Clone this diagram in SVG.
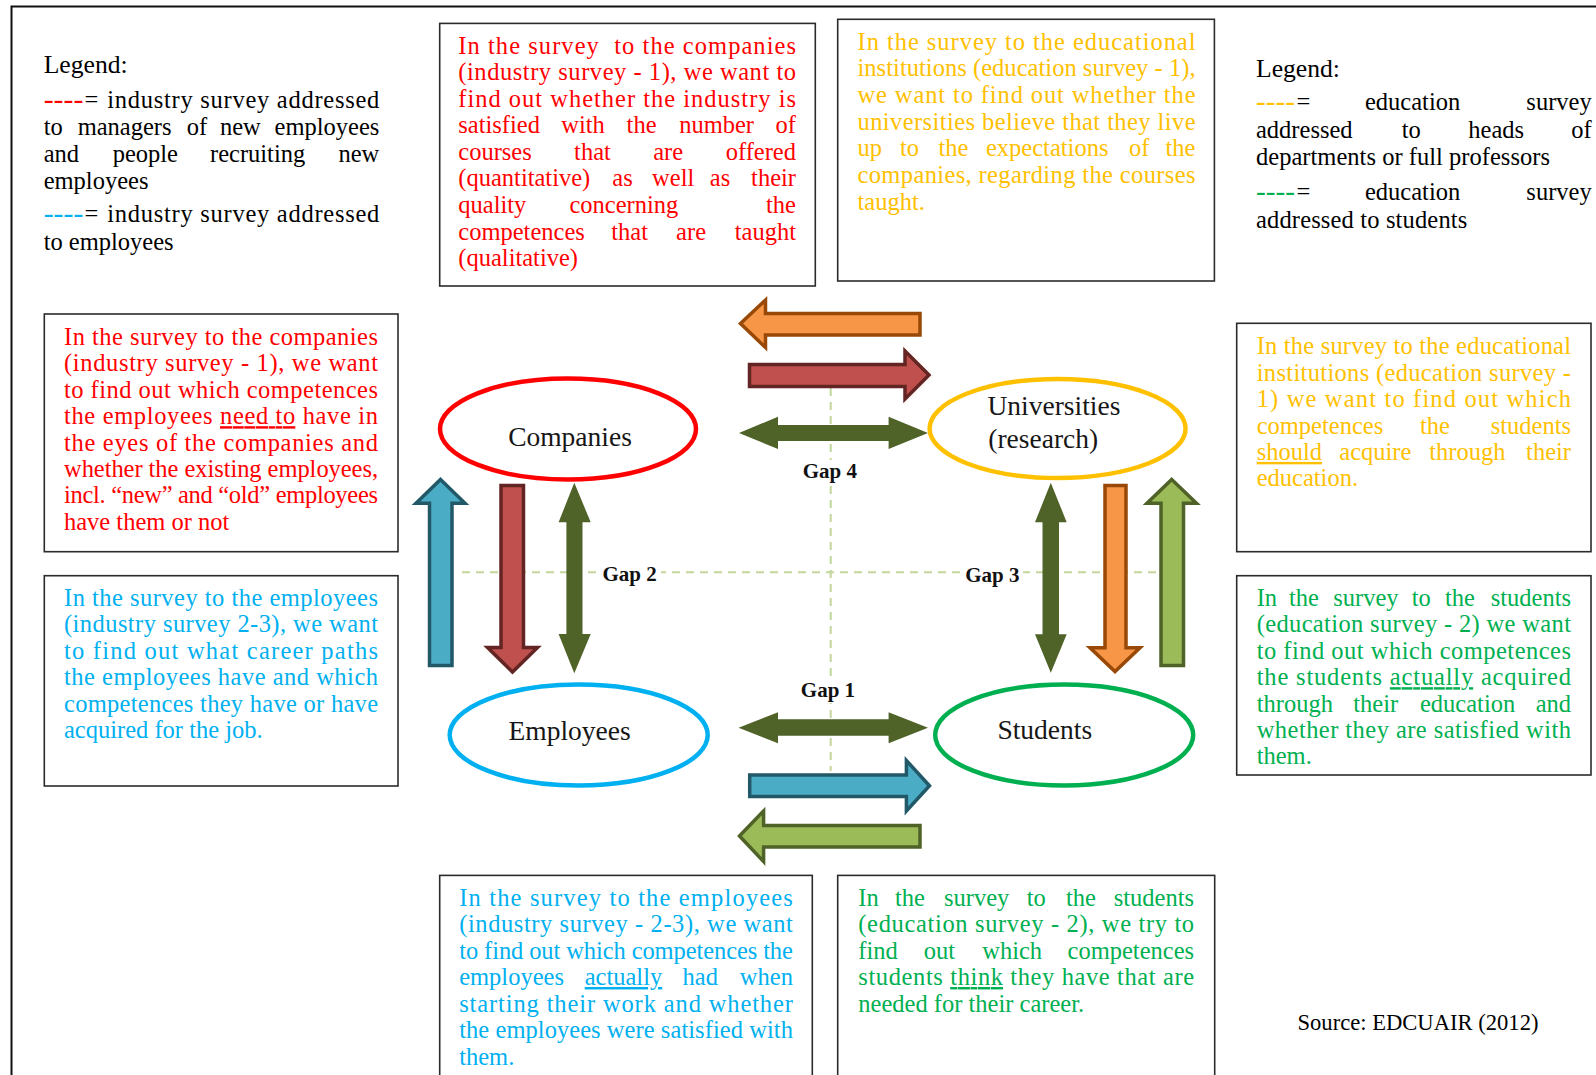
<svg xmlns="http://www.w3.org/2000/svg" width="1596" height="1075" viewBox="0 0 1596 1075">
  <style>
    .box { fill: #ffffff; stroke: #2b2b2b; stroke-width: 1.6; }
    .t { font-family: "Liberation Serif", "Times New Roman", serif; font-size: 24.5px; }
    .lg { font-family: "Liberation Serif", "Times New Roman", serif; font-size: 25px; fill: #000; }
    .src { font-family: "Liberation Serif", "Times New Roman", serif; font-size: 22.6px; fill: #000; }
    .dsh { font-weight: bold; }
    .blk { fill: #000000; }
    .red { fill: #FF0000; }
    .blue { fill: #00B0F0; }
    .orange { fill: #FFC000; }
    .green { fill: #00B050; }
    .u { text-decoration: underline; }
    .node { font-family: "Liberation Serif", "Times New Roman", serif; font-size: 27.5px; fill: #161616; }
    .gap { font-family: "Liberation Serif", "Times New Roman", serif; font-size: 21px; font-weight: bold; fill: #111; text-anchor: middle; }
    .axis { fill: none; stroke: #C3D69B; stroke-width: 2; stroke-dasharray: 8 6; }
    .bg { fill: #ffffff; }
    .dbl { fill: #4F6228; }
    .arr-orange { fill: #F79646; stroke: #984807; stroke-width: 3.5; stroke-linejoin: miter; }
    .arr-red { fill: #C0504D; stroke: #632523; stroke-width: 3.5; stroke-linejoin: miter; }
    .arr-blue { fill: #4BACC6; stroke: #215968; stroke-width: 3.5; stroke-linejoin: miter; }
    .arr-lgreen { fill: #9BBB59; stroke: #4F6228; stroke-width: 3.5; stroke-linejoin: miter; }
    .ell { fill: #ffffff; stroke-width: 4.5; }
  </style>

  <rect x="0" y="0" width="1596" height="1075" fill="#ffffff"/>

  <!-- outer frame -->
  <path d="M11.5,1075 V6.5 H1596" fill="none" stroke="#111" stroke-width="2"/>

  <!-- legend, industry side -->
  <g id="legend-industry">
    <text class="lg" x="43.7" y="72.7" textLength="84" lengthAdjust="spacingAndGlyphs">Legend:</text>
    <text class="t" y="107.5"><tspan class="red dsh" x="43.7" textLength="39.7" lengthAdjust="spacingAndGlyphs">----</tspan><tspan class="blk" x="84.5">=</tspan></text>
    <text class="t blk" x="107.3" y="107.5" textLength="272" lengthAdjust="spacing">industry survey addressed</text>
    <text class="t blk" y="135"><tspan x="43.7">to</tspan><tspan x="77.7">managers</tspan><tspan x="186.7">of</tspan><tspan x="220">new</tspan><tspan x="379.3" text-anchor="end">employees</tspan></text>
    <text class="t blk" y="162.3"><tspan x="43.7">and</tspan><tspan x="112.7">people</tspan><tspan x="210">recruiting</tspan><tspan x="379.3" text-anchor="end">new</tspan></text>
    <text class="t blk" x="43.7" y="189">employees</text>
    <text class="t" y="221.7"><tspan class="blue dsh" x="43.7" textLength="39.7" lengthAdjust="spacingAndGlyphs">----</tspan><tspan class="blk" x="84.5">=</tspan></text>
    <text class="t blk" x="107.3" y="221.7" textLength="272" lengthAdjust="spacing">industry survey addressed</text>
    <text class="t blk" x="43.7" y="250">to employees</text>
  </g>

  <!-- legend, education side -->
  <g id="legend-education">
    <text class="lg" x="1256" y="77.3" textLength="84" lengthAdjust="spacingAndGlyphs">Legend:</text>
    <text class="t" y="110"><tspan class="orange dsh" x="1256" textLength="39" lengthAdjust="spacingAndGlyphs">----</tspan><tspan class="blk" x="1296.5">=</tspan><tspan class="blk" x="1365">education</tspan><tspan class="blk" x="1591.7" text-anchor="end">survey</tspan></text>
    <text class="t blk" y="138.3"><tspan x="1256">addressed</tspan><tspan x="1401.7">to</tspan><tspan x="1468.3">heads</tspan><tspan x="1591.7" text-anchor="end">of</tspan></text>
    <text class="t blk" x="1256" y="165" textLength="294" lengthAdjust="spacing">departments or full professors</text>
    <text class="t" y="200"><tspan class="green dsh" x="1256" textLength="39" lengthAdjust="spacingAndGlyphs">----</tspan><tspan class="blk" x="1296.5">=</tspan><tspan class="blk" x="1365">education</tspan><tspan class="blk" x="1591.7" text-anchor="end">survey</tspan></text>
    <text class="t blk" x="1256" y="227.7" textLength="211.3" lengthAdjust="spacing">addressed to students</text>
  </g>

  <!-- industry survey 1: courses offered -->
  <g id="box-industry-courses">
    <rect class="box" x="439.7" y="23.4" width="375.6" height="262.6"/>
    <g class="t red">
      <text x="458.3" y="53.5" textLength="337.7" lengthAdjust="spacing" xml:space="preserve">In the survey  to the companies</text>
      <text x="458.3" y="80" textLength="337.7" lengthAdjust="spacing">(industry survey - 1), we want to</text>
      <text x="458.3" y="106.6" textLength="337.7" lengthAdjust="spacing">find out whether the industry is</text>
      <text y="133.2"><tspan x="458.3">satisfied</tspan><tspan x="561.3">with</tspan><tspan x="626.6">the</tspan><tspan x="679.2">number</tspan><tspan x="796" text-anchor="end">of</tspan></text>
      <text y="159.8"><tspan x="458.3">courses</tspan><tspan x="574.1">that</tspan><tspan x="653.2">are</tspan><tspan x="796" text-anchor="end">offered</tspan></text>
      <text y="186.4"><tspan x="458.3">(quantitative)</tspan><tspan x="612.3">as</tspan><tspan x="652.1">well</tspan><tspan x="709.8">as</tspan><tspan x="796" text-anchor="end">their</tspan></text>
      <text y="213"><tspan x="458.3">quality</tspan><tspan x="569.5">concerning</tspan><tspan x="796" text-anchor="end">the</tspan></text>
      <text y="239.6"><tspan x="458.3">competences</tspan><tspan x="611.3">that</tspan><tspan x="676.1">are</tspan><tspan x="796" text-anchor="end">taught</tspan></text>
      <text x="458.3" y="266.2">(qualitative)</text>
    </g>
  </g>

  <!-- education survey 1: expectations -->
  <g id="box-education-expectations">
    <rect class="box" x="837.7" y="19.3" width="376.7" height="261.7"/>
    <g class="t orange">
      <text x="857.5" y="49.5" textLength="338" lengthAdjust="spacing">In the survey to the educational</text>
      <text x="857.5" y="76.2" textLength="338" lengthAdjust="spacing">institutions (education survey - 1),</text>
      <text x="857.5" y="102.8" textLength="338" lengthAdjust="spacing">we want to find out whether the</text>
      <text x="857.5" y="129.5" textLength="338" lengthAdjust="spacing">universities believe that they live</text>
      <text y="156.2"><tspan x="857.5">up</tspan><tspan x="900">to</tspan><tspan x="938.5">the</tspan><tspan x="986">expectations</tspan><tspan x="1129">of</tspan><tspan x="1195.5" text-anchor="end">the</tspan></text>
      <text x="857.5" y="182.8" textLength="338" lengthAdjust="spacing">companies, regarding the courses</text>
      <text x="857.5" y="209.5">taught.</text>
    </g>
  </g>

  <!-- industry survey 1: needed competences -->
  <g id="box-industry-competences">
    <rect class="box" x="44.3" y="314" width="353.7" height="237.7"/>
    <g class="t red">
      <text x="64" y="345" textLength="314" lengthAdjust="spacing">In the survey to the companies</text>
      <text x="64" y="371.4" textLength="314" lengthAdjust="spacing">(industry survey - 1), we want</text>
      <text x="64" y="397.8" textLength="314" lengthAdjust="spacing">to find out which competences</text>
      <text x="64" y="424.2" textLength="314" lengthAdjust="spacing">the employees <tspan class="u">need to</tspan> have in</text>
      <text x="64" y="450.6" textLength="314" lengthAdjust="spacing">the eyes of the companies and</text>
      <text x="64" y="477" textLength="314" lengthAdjust="spacing">whether the existing employees,</text>
      <text x="64" y="503.4" textLength="314" lengthAdjust="spacing">incl. “new” and “old” employees</text>
      <text x="64" y="529.8">have them or not</text>
    </g>
  </g>

  <!-- industry survey 2-3: career paths -->
  <g id="box-industry-careers">
    <rect class="box" x="44.3" y="575.7" width="353.7" height="210.3"/>
    <g class="t blue">
      <text x="64" y="606" textLength="314" lengthAdjust="spacing">In the survey to the employees</text>
      <text x="64" y="632.4" textLength="314" lengthAdjust="spacing">(industry survey 2-3), we want</text>
      <text x="64" y="658.8" textLength="314" lengthAdjust="spacing">to find out what career paths</text>
      <text x="64" y="685.2" textLength="314" lengthAdjust="spacing">the employees have and which</text>
      <text x="64" y="711.6" textLength="314" lengthAdjust="spacing">competences they have or have</text>
      <text x="64" y="738">acquired for the job.</text>
    </g>
  </g>

  <!-- education survey 1: competences to acquire -->
  <g id="box-education-competences">
    <rect class="box" x="1236.7" y="323.3" width="354.3" height="228.4"/>
    <g class="t orange">
      <text x="1256.7" y="354.3" textLength="314.3" lengthAdjust="spacing">In the survey to the educational</text>
      <text x="1256.7" y="380.7" textLength="314.3" lengthAdjust="spacing">institutions (education survey -</text>
      <text x="1256.7" y="407.1" textLength="314.3" lengthAdjust="spacing">1) we want to find out which</text>
      <text y="433.5"><tspan x="1256.7">competences</tspan><tspan x="1420">the</tspan><tspan x="1571" text-anchor="end">students</tspan></text>
      <text y="459.9"><tspan x="1256.7" class="u">should</tspan><tspan x="1339.3">acquire</tspan><tspan x="1429.3">through</tspan><tspan x="1571" text-anchor="end">their</tspan></text>
      <text x="1256.7" y="486.3">education.</text>
    </g>
  </g>

  <!-- education survey 2: acquired competences -->
  <g id="box-education-students">
    <rect class="box" x="1236.7" y="575.7" width="354.3" height="199.3"/>
    <g class="t green">
      <text y="606"><tspan x="1256.7">In</tspan><tspan x="1289">the</tspan><tspan x="1333.3">survey</tspan><tspan x="1411.7">to</tspan><tspan x="1445">the</tspan><tspan x="1571" text-anchor="end">students</tspan></text>
      <text x="1256.7" y="632.4" textLength="314.3" lengthAdjust="spacing">(education survey - 2) we want</text>
      <text x="1256.7" y="658.8" textLength="314.3" lengthAdjust="spacing">to find out which competences</text>
      <text x="1256.7" y="685.2" textLength="314.3" lengthAdjust="spacing">the students <tspan class="u">actually</tspan> acquired</text>
      <text y="711.6"><tspan x="1256.7">through</tspan><tspan x="1353.3">their</tspan><tspan x="1420">education</tspan><tspan x="1571" text-anchor="end">and</tspan></text>
      <text x="1256.7" y="738" textLength="314.3" lengthAdjust="spacing">whether they are satisfied with</text>
      <text x="1256.7" y="764.4">them.</text>
    </g>
  </g>

  <!-- industry survey 2-3: competences on starting work -->
  <g id="box-industry-employees">
    <rect class="box" x="439.7" y="875.4" width="372.6" height="215"/>
    <g class="t blue">
      <text x="459.2" y="905.5" textLength="333.7" lengthAdjust="spacing">In the survey to the employees</text>
      <text x="459.2" y="932" textLength="333.7" lengthAdjust="spacing">(industry survey - 2-3), we want</text>
      <text x="459.2" y="958.5" textLength="333.7" lengthAdjust="spacing">to find out which competences the</text>
      <text y="985"><tspan x="459.2">employees</tspan><tspan x="584.7" class="u">actually</tspan><tspan x="682.6">had</tspan><tspan x="792.9" text-anchor="end">when</tspan></text>
      <text x="459.2" y="1011.5" textLength="333.7" lengthAdjust="spacing">starting their work and whether</text>
      <text x="459.2" y="1038" textLength="333.7" lengthAdjust="spacing">the employees were satisfied with</text>
      <text x="459.2" y="1064.5">them.</text>
    </g>
  </g>

  <!-- education survey 2: perceived competences -->
  <g id="box-education-career">
    <rect class="box" x="837.7" y="875.4" width="377" height="215"/>
    <g class="t green">
      <text y="905.5"><tspan x="858.3">In</tspan><tspan x="894.9">the</tspan><tspan x="944">survey</tspan><tspan x="1026.7">to</tspan><tspan x="1065.9">the</tspan><tspan x="1194.1" text-anchor="end">students</tspan></text>
      <text x="858.3" y="932" textLength="335.8" lengthAdjust="spacing">(education survey - 2), we try to</text>
      <text y="958.5"><tspan x="858.3">find</tspan><tspan x="923.7">out</tspan><tspan x="982.2">which</tspan><tspan x="1194.1" text-anchor="end">competences</tspan></text>
      <text x="858.3" y="985" textLength="335.8" lengthAdjust="spacing">students <tspan class="u">think</tspan> they have that are</text>
      <text x="858.3" y="1011.5">needed for their career.</text>
    </g>
  </g>

  <g id="source">
    <text class="src" x="1297.5" y="1030">Source: EDCUAIR (2012)</text>
  </g>

  <!-- connectors: gap axes, gap labels and block arrows -->
  <g id="connectors">
    <line class="axis" x1="462" y1="572.3" x2="1160" y2="572.3"/>
    <line class="axis" x1="830.7" y1="388" x2="830.7" y2="771"/>

    <rect class="bg" x="599" y="562" width="62" height="24"/>
    <rect class="bg" x="961" y="562" width="62" height="24"/>
    <rect class="bg" x="800" y="460" width="60" height="24"/>
    <rect class="bg" x="798" y="679" width="60" height="24"/>
    <text class="gap" x="829.8" y="478">Gap 4</text>
    <text class="gap" x="629.6" y="580.5">Gap 2</text>
    <text class="gap" x="992.3" y="581.5">Gap 3</text>
    <text class="gap" x="828" y="696.7">Gap 1</text>

    <!-- top: universities to companies / companies to universities -->
    <polygon class="arr-orange" points="740.5,323.5 765.5,300 765.5,313.5 920,313.5 920,335 765.5,335 765.5,347.5"/>
    <polygon class="arr-red" points="749.5,364.5 905,364.5 905,351 929,375 905,399 905,386.5 749.5,386.5"/>
    <polygon class="dbl" points="739,433 778,416.7 778,425 888.6,425 888.6,416.7 928,433 888.6,449 888.6,441 778,441 778,449"/>

    <!-- left: companies and employees -->
    <polygon class="arr-blue" points="440.5,479.5 465,503.3 452,503.3 452,665.5 429.5,665.5 429.5,503.3 416,503.3"/>
    <polygon class="arr-red" points="501,485.5 523.5,485.5 523.5,647.5 537.5,647.5 512.5,672 487.5,647.5 501,647.5"/>
    <polygon class="dbl" points="574.3,482.7 590.7,522.3 582.5,522.3 582.5,634 590.7,634 574.3,673.3 558.6,634 566.4,634 566.4,522.3 558.6,522.3"/>

    <!-- right: universities and students -->
    <polygon class="dbl" points="1050.8,482.7 1066.7,522.3 1059,522.3 1059,634.3 1066.7,634.3 1050.8,672.7 1035,634.3 1042.5,634.3 1042.5,522.3 1035,522.3"/>
    <polygon class="arr-orange" points="1105,485.5 1126,485.5 1126,647.7 1140,647.7 1115,671.5 1090,647.7 1105,647.7"/>
    <polygon class="arr-lgreen" points="1171.7,479.5 1196.5,503.3 1183.5,503.3 1183.5,665.5 1161,665.5 1161,503.3 1147,503.3"/>

    <!-- bottom: employees and students -->
    <polygon class="dbl" points="738.6,727.8 778,712.3 778,719.3 888.6,719.3 888.6,712.3 928,727.8 888.6,743.3 888.6,735.7 778,735.7 778,743.3"/>
    <polygon class="arr-blue" points="749.7,775 906.4,775 906.4,760.5 929.5,785.7 906.4,811 906.4,796.5 749.7,796.5"/>
    <polygon class="arr-lgreen" points="739.5,836 763.6,811 763.6,825.5 920,825.5 920,847 763.6,847 763.6,861.5"/>
  </g>

  <!-- nodes -->
  <g id="node-companies">
    <ellipse class="ell" cx="568" cy="429" rx="128" ry="50.5" stroke="#FF0000"/>
    <text class="node" x="570" y="446" text-anchor="middle">Companies</text>
  </g>
  <g id="node-universities">
    <ellipse class="ell" cx="1057.6" cy="428.5" rx="128" ry="49.5" stroke="#FFC000"/>
    <text class="node" x="987.5" y="415">Universities</text>
    <text class="node" x="988.3" y="447.5">(research)</text>
  </g>
  <g id="node-employees">
    <ellipse class="ell" cx="578.7" cy="735" rx="129" ry="50.5" stroke="#00B0F0"/>
    <text class="node" x="569.6" y="740" text-anchor="middle">Employees</text>
  </g>
  <g id="node-students">
    <ellipse class="ell" cx="1064.2" cy="735" rx="129" ry="50.5" stroke="#00B050"/>
    <text class="node" x="1044.8" y="739.3" text-anchor="middle">Students</text>
  </g>
</svg>
